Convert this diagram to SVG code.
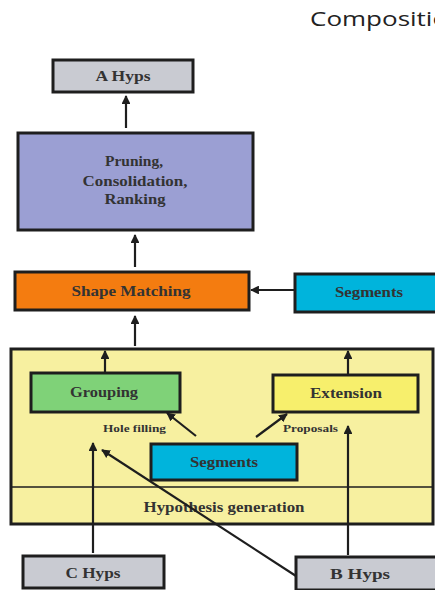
<svg xmlns="http://www.w3.org/2000/svg" width="435" height="590" viewBox="0 0 435 590">
  <style>
    .box { stroke: #1e1e1e; stroke-width: 3; }
    .lbl { font-family: "Liberation Serif", "Times New Roman", serif; font-weight: bold; font-size: 14px; fill: #333333; text-anchor: middle; }
    .small { font-family: "Liberation Serif", "Times New Roman", serif; font-weight: bold; font-size: 10px; fill: #333333; }
    .title { font-family: "Open Sans", "Noto Sans", sans-serif; font-size: 20px; fill: #222222; }
    .conn { stroke: #1e1e1e; stroke-width: 2.2; fill: none; marker-end: url(#arr); }
  </style>
  <defs>
    <marker id="arr" viewBox="0 0 10 10" refX="9" refY="5" markerWidth="4" markerHeight="4" orient="auto" markerUnits="strokeWidth">
      <path d="M0,0 L10,5 L0,10 z" fill="#1e1e1e"/>
    </marker>
  </defs>

  <rect width="435" height="590" fill="#ffffff"/>
  <text class="title" x="310" y="26" textLength="154" lengthAdjust="spacingAndGlyphs">Composition</text>

  <g id="hyp-gen">
    <rect class="box" x="11" y="349" width="422" height="175" fill="#f7f0a0"/>
    <line x1="11" y1="487" x2="433" y2="487" stroke="#1e1e1e" stroke-width="1.5"/>
    <text class="lbl" x="224" y="512" textLength="161" lengthAdjust="spacingAndGlyphs">Hypothesis generation</text>
  </g>

  <g id="a-hyps">
    <rect class="box" x="53" y="60" width="140" height="32" fill="#c9cbd2"/>
    <text class="lbl" x="123" y="81" textLength="55" lengthAdjust="spacingAndGlyphs">A Hyps</text>
  </g>

  <g id="pruning">
    <rect class="box" x="18" y="133" width="235" height="97" fill="#9b9fd3"/>
    <text class="lbl" x="134" y="166" textLength="58" lengthAdjust="spacingAndGlyphs">Pruning,</text>
    <text class="lbl" x="135" y="186" textLength="105" lengthAdjust="spacingAndGlyphs">Consolidation,</text>
    <text class="lbl" x="135" y="204" textLength="61" lengthAdjust="spacingAndGlyphs">Ranking</text>
  </g>

  <g id="shape-matching">
    <rect class="box" x="15" y="272" width="234" height="38" fill="#f47c10"/>
    <text class="lbl" x="131" y="296" textLength="119" lengthAdjust="spacingAndGlyphs">Shape Matching</text>
  </g>

  <g id="segments-right">
    <rect class="box" x="295" y="274" width="145" height="38" fill="#00b4dc"/>
    <text class="lbl" x="369" y="297" textLength="68" lengthAdjust="spacingAndGlyphs">Segments</text>
  </g>

  <g id="grouping">
    <rect class="box" x="31" y="373" width="149" height="39" fill="#7fd278"/>
    <text class="lbl" x="104" y="397" textLength="68" lengthAdjust="spacingAndGlyphs">Grouping</text>
  </g>

  <g id="extension">
    <rect class="box" x="273" y="375" width="145" height="37" fill="#f7ef6c"/>
    <text class="lbl" x="346" y="398" textLength="72" lengthAdjust="spacingAndGlyphs">Extension</text>
  </g>

  <g id="segments-inner">
    <rect class="box" x="151" y="444" width="146" height="36" fill="#00b4dc"/>
    <text class="lbl" x="224" y="467" textLength="68" lengthAdjust="spacingAndGlyphs">Segments</text>
  </g>

  <g id="c-hyps">
    <rect class="box" x="23" y="556" width="141" height="32" fill="#c9cbd2"/>
    <text class="lbl" x="93" y="578" textLength="55" lengthAdjust="spacingAndGlyphs">C Hyps</text>
  </g>

  <g id="b-hyps">
    <rect class="box" x="296" y="557" width="142" height="33" fill="#c9cbd2"/>
    <text class="lbl" x="360" y="579" textLength="60" lengthAdjust="spacingAndGlyphs">B Hyps</text>
  </g>

  <g id="labels">
    <text class="small" x="103" y="432" textLength="63" lengthAdjust="spacingAndGlyphs">Hole filling</text>
    <text class="small" x="283" y="432" textLength="55" lengthAdjust="spacingAndGlyphs">Proposals</text>
  </g>

  <g id="connectors">
    <line class="conn" x1="126" y1="128" x2="126" y2="96"/>
    <line class="conn" x1="135" y1="267" x2="135" y2="235"/>
    <line class="conn" x1="294" y1="290" x2="251" y2="290"/>
    <line class="conn" x1="135" y1="346" x2="135" y2="316"/>
    <line class="conn" x1="105" y1="372" x2="105" y2="351"/>
    <line class="conn" x1="348" y1="374" x2="348" y2="351"/>
    <line class="conn" x1="196" y1="436" x2="167" y2="413"/>
    <line class="conn" x1="256" y1="437" x2="287" y2="414"/>
    <line class="conn" x1="93" y1="553" x2="93" y2="443"/>
    <line class="conn" x1="296" y1="576" x2="102" y2="450"/>
    <line class="conn" x1="348" y1="555" x2="348" y2="426"/>
  </g>
</svg>
